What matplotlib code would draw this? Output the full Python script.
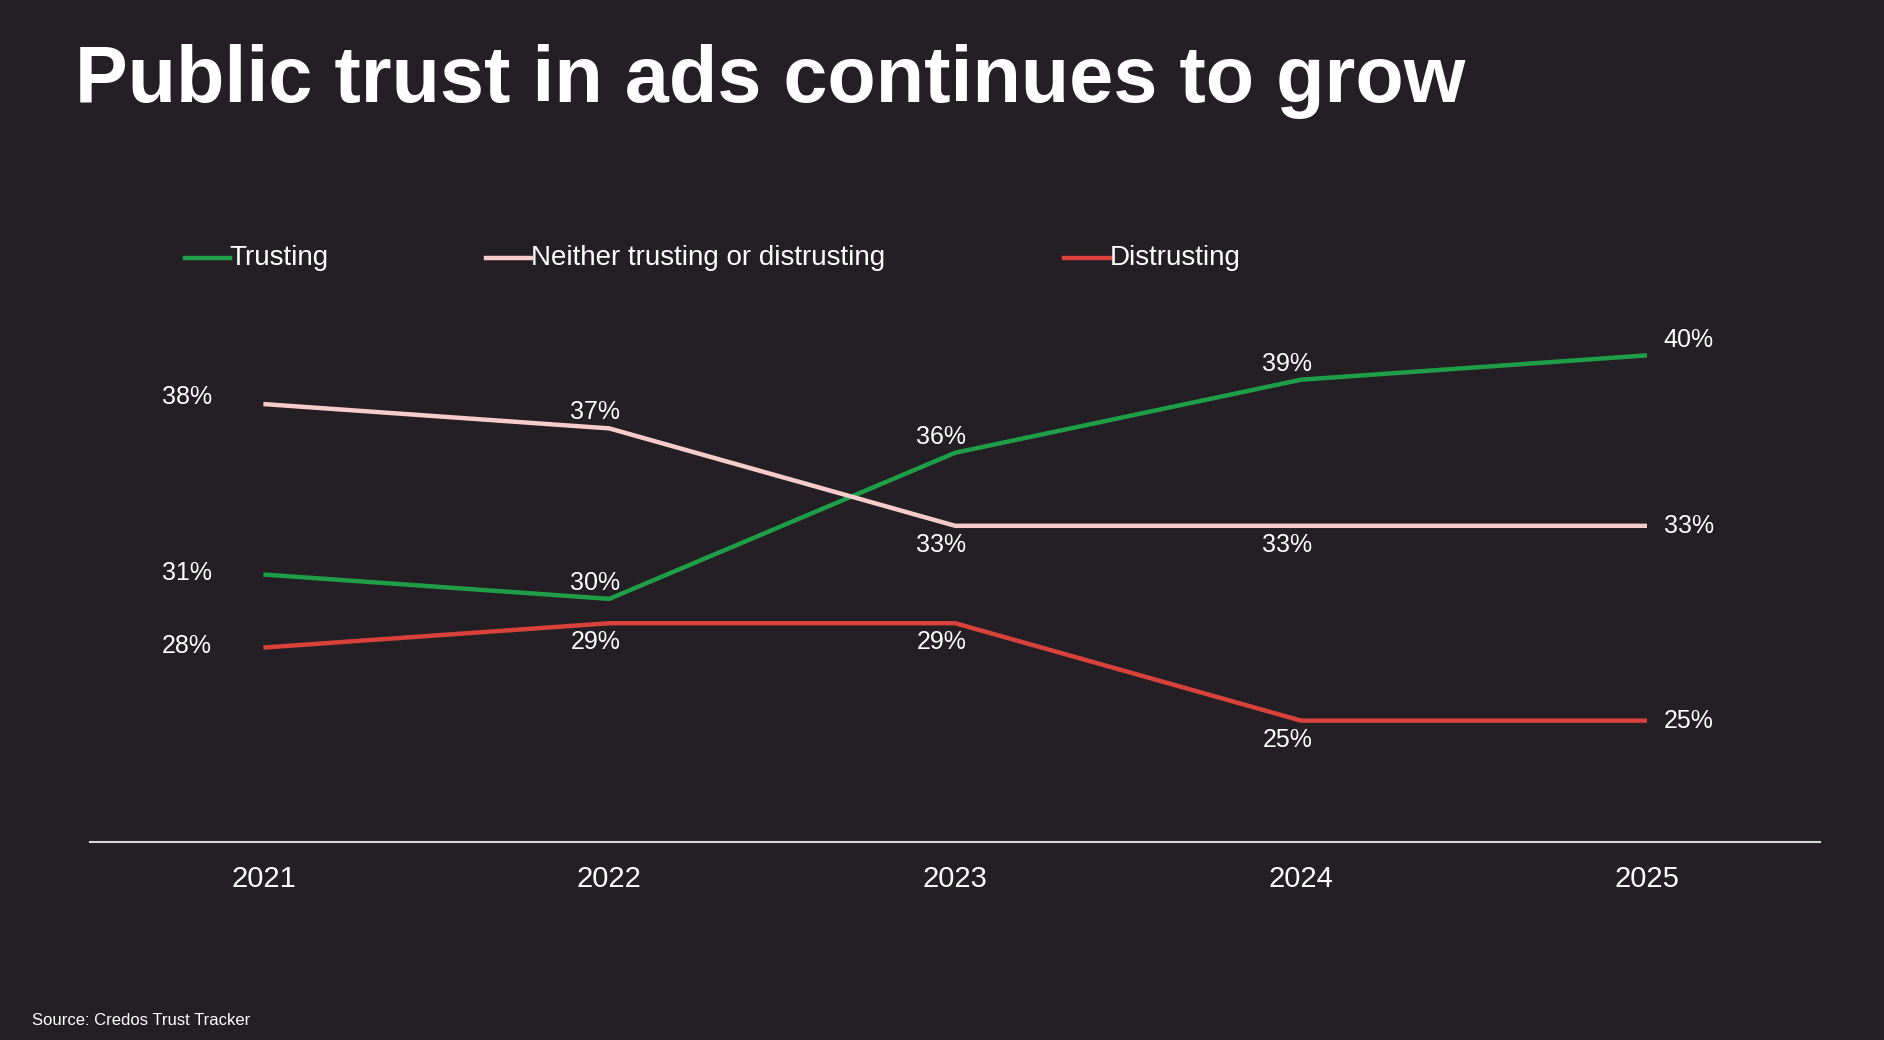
import matplotlib
matplotlib.use("Agg")
import matplotlib.pyplot as plt
from matplotlib.lines import Line2D

years = [2021, 2022, 2023, 2024, 2025]
trusting = [31, 30, 36, 39, 40]
neither = [38, 37, 33, 33, 33]
distrusting = [28, 29, 29, 25, 25]
series_names = ["Trusting", "Neither trusting or distrusting", "Distrusting"]

BG = "#231f24"
colors = ["#1f9e48", "#f6cdca", "#d8423b"]
# label placement: 'l' left, 'r' right, 'ra' right-above, 'a' above, 'b' below
places = [
    ["l", "a", "a", "a", "ra"],
    ["la", "a", "b", "b", "r"],
    ["l", "b", "b", "b", "r"],
]

plt.rcParams['font.family'] = ['Liberation Sans', 'DejaVu Sans']
fig = plt.figure(figsize=(18.84, 10.4), dpi=100, facecolor=BG)
ax = fig.add_axes([0.048, 0.19, 0.918, 0.562])
ax.set_facecolor(BG)
ax.set_xlim(2020.5, 2025.5)
ax.set_ylim(20, 44)

for vals, c, pl in zip([trusting, neither, distrusting], colors, places):
    ax.plot(years, vals, color=c, lw=3.2, solid_capstyle='butt')
    for x, v, p in zip(years, vals, pl):
        kw = dict(color="white", fontsize=18, textcoords="offset points")
        if p == "l":
            ax.annotate(f"{v}%", (x, v), xytext=(-55, 1), ha="center", va="center", **kw)
        elif p == "la":
            ax.annotate(f"{v}%", (x, v), xytext=(-55, 5), ha="center", va="center", **kw)
        elif p == "r":
            ax.annotate(f"{v}%", (x, v), xytext=(30, 0), ha="center", va="center", **kw)
        elif p == "ra":
            ax.annotate(f"{v}%", (x, v), xytext=(30, 11), ha="center", va="center", **kw)
        elif p == "a":
            ax.annotate(f"{v}%", (x, v), xytext=(-10, 3), ha="center", va="bottom", **kw)
        else:
            ax.annotate(f"{v}%", (x, v), xytext=(-10, -5), ha="center", va="top", **kw)

for s in ["top", "right", "left"]:
    ax.spines[s].set_visible(False)
ax.spines["bottom"].set_color("#d9d9d9")
ax.spines["bottom"].set_linewidth(1.5)
ax.set_yticks([])
ax.set_xticks(years)
ax.set_xticklabels([str(y) for y in years], color="white", fontsize=21)
ax.tick_params(axis="x", length=0, pad=16)

fig.text(0.04, 0.922, "Public trust in ads continues to grow", color="white",
         fontsize=57, fontweight="bold", va="center", ha="left")

leg_x = [0.098, 0.258, 0.565]
for lx, name, c in zip(leg_x, series_names, colors):
    fig.add_artist(Line2D([lx, lx + 0.024], [0.752, 0.752], color=c, lw=3.2,
                          transform=fig.transFigure))
    fig.text(lx + 0.024, 0.752, name, color="white", fontsize=20, va="center", ha="left")

fig.text(0.017, 0.019, "Source: Credos Trust Tracker", color="white", fontsize=12,
         va="center", ha="left")

fig.savefig("out.png", dpi=100, facecolor=BG)
